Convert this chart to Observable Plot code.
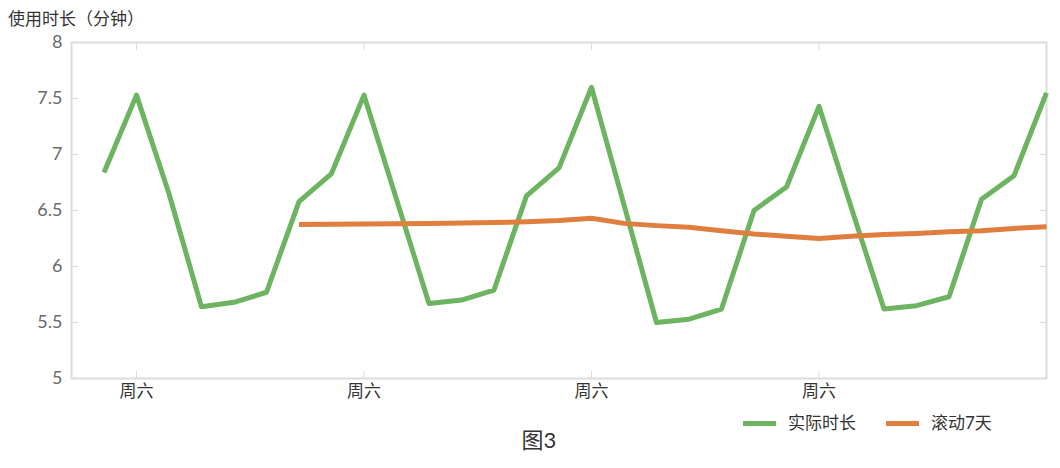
<!DOCTYPE html>
<html><head><meta charset="utf-8">
<script src="https://cdn.jsdelivr.net/npm/d3@7"></script>
<script src="https://cdn.jsdelivr.net/npm/@observablehq/plot@0.6"></script>
<style>
body{margin:0;background:#fff;font-family:Lato,"Noto Sans CJK SC",sans-serif;}
#wrap{position:relative;width:1060px;height:468px;overflow:hidden;}
#title{position:absolute;left:8px;top:9px;font-size:17px;color:#333;line-height:18px;font-family:"Noto Sans CJK SC",sans-serif;}
#chart{position:absolute;left:0;top:30px;}
#legend{position:absolute;left:743px;top:411px;font-size:17px;color:#333;line-height:24px;display:flex;align-items:center;font-family:Lato,"Noto Sans CJK SC",sans-serif;}
.sw{display:inline-block;width:33px;height:5px;margin-right:12px;}
.item{display:flex;align-items:center;margin-right:30px;}
#caption{position:absolute;left:0;width:1078px;text-align:center;top:425px;font-size:22px;line-height:30px;color:#333;font-family:Lato,"Noto Sans CJK SC",sans-serif;}
</style>
</head><body>
<div id="wrap">
  <div id="title"></div>
  <div id="chart"></div>
  <div id="legend"></div>
  <div id="caption"></div>
</div>
<script>
const titleText = "使用时长（分钟）";
const captionText = "图3";
const seriesNames = ["实际时长", "滚动7天"];
const seriesColors = ["#6cb460", "#e07e3e"];

const days = ["周五","周六","周日","周一","周二","周三","周四",
              "周五","周六","周日","周一","周二","周三","周四",
              "周五","周六","周日","周一","周二","周三","周四",
              "周五","周六","周日","周一","周二","周三","周四",
              "周五","周六"];
const xTickIdx = [1, 8, 15, 22];
const yTicks = [5, 5.5, 6, 6.5, 7, 7.5, 8];

const actual = [6.84,7.53,6.65,5.64,5.68,5.77,6.58,
                6.83,7.53,6.60,5.67,5.70,5.79,6.63,
                6.88,7.60,6.55,5.50,5.53,5.62,6.50,
                6.71,7.43,6.52,5.62,5.65,5.73,6.60,
                6.81,7.55];
const rolling7 = [null,null,null,null,null,null,6.375,
                  6.377,6.38,6.382,6.385,6.388,6.392,6.40,
                  6.41,6.43,6.385,6.365,6.35,6.32,6.29,
                  6.27,6.25,6.27,6.285,6.295,6.31,6.32,
                  6.34,6.355];

const dataA = actual.map((v,i)=>({i, v}));
const dataR = rolling7.map((v,i)=>({i, v})).filter(d=>d.v!==null);

const frameColor = "#dcdcdc";
const chart = Plot.plot({
  width: 1060, height: 380,
  marginTop: 12, marginBottom: 32, marginLeft: 71, marginRight: 14,
  style: {fontFamily: 'Lato,"Noto Sans CJK SC",sans-serif', background: "transparent", overflow: "visible"},
  x: {domain: [-1, days.length - 1], axis: null},
  y: {domain: [5, 8], axis: null},
  marks: [
    Plot.frame({stroke: frameColor, strokeWidth: 2}),
    Plot.axisY({anchor: "left", ticks: yTicks, tickSize: 0, tickPadding: 9, tickFormat: d => String(d), fontSize: 18, color: "#6a6a6a", label: null}),
    Plot.axisY({anchor: "left", ticks: yTicks, tickSize: 7, dx: 7, tickFormat: () => "", color: frameColor, label: null}),
    Plot.axisY({anchor: "right", ticks: yTicks, tickSize: 7, dx: -7, tickFormat: () => "", color: frameColor, label: null}),
    Plot.axisX({anchor: "bottom", ticks: xTickIdx, tickSize: 0, tickPadding: 6, tickFormat: d => days[d], fontSize: 17, color: "#333", label: null}),
    Plot.axisX({anchor: "bottom", ticks: xTickIdx, tickSize: 7, dy: -7, tickFormat: () => "", color: frameColor, label: null}),
    Plot.axisX({anchor: "top", ticks: xTickIdx, tickSize: 7, dy: 7, tickFormat: () => "", color: frameColor, label: null}),
    Plot.line(dataA, {x: "i", y: "v", stroke: seriesColors[0], strokeWidth: 5, strokeLinejoin: "round", strokeLinecap: "butt"}),
    Plot.line(dataR, {x: "i", y: "v", stroke: seriesColors[1], strokeWidth: 5, strokeLinejoin: "round", strokeLinecap: "butt"})
  ]
});
document.getElementById("chart").appendChild(chart);
document.getElementById("title").textContent = titleText;
document.getElementById("caption").textContent = captionText;
const legend = document.getElementById("legend");
seriesNames.forEach((n, k) => {
  const it = document.createElement("span");
  it.className = "item";
  const sw = document.createElement("span");
  sw.className = "sw";
  sw.style.background = seriesColors[k];
  const tx = document.createElement("span");
  tx.textContent = n;
  it.appendChild(sw); it.appendChild(tx);
  legend.appendChild(it);
});
</script>
</body></html>
